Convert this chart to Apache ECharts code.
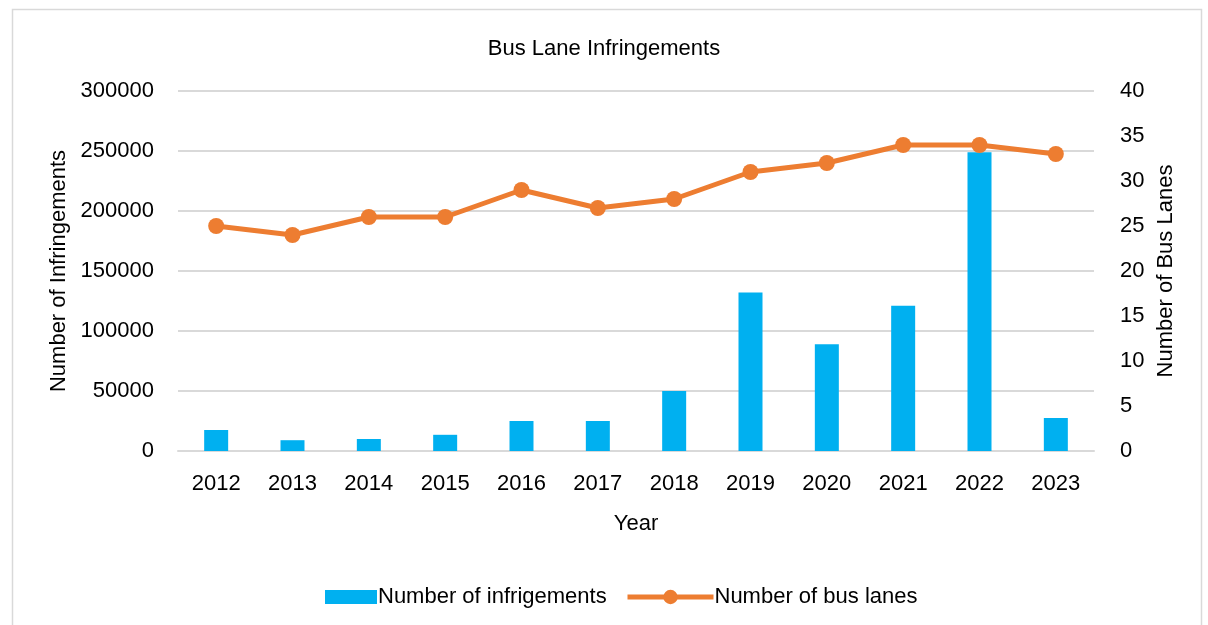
<!DOCTYPE html>
<html>
<head>
<meta charset="utf-8">
<script src="https://cdn.jsdelivr.net/npm/echarts@6/dist/echarts.min.js"></script>
<style>
  html, body { margin: 0; padding: 0; background: #fff; }
  #chart { width: 1208px; height: 625px; }
</style>
</head>
<body>
<div id="chart"></div>
<script>
// data
var years = ['2012', '2013', '2014', '2015', '2016', '2017', '2018', '2019', '2020', '2021', '2022', '2023']
var infringements = [17500, 9000, 10000, 13500, 25000, 25000, 50000, 132000, 89000, 121000, 249000, 27500]
var busLanes = [25, 24, 26, 26, 29, 27, 28, 31, 32, 34, 34, 33]

var FONT = '"Liberation Sans", Arial, sans-serif'
var BLUE = '#00B0F0'
var ORANGE = '#ED7D31'
var GRID = '#D9D9D9'

var myChart = echarts.init(document.getElementById('chart'))

myChart.setOption({
    animation: false,
    textStyle: { fontFamily: FONT, color: '#000' },
    graphic: [{
        type: 'rect',
        left: 10, top: 7,
        shape: { width: 1189, height: 640 },
        style: { fill: 'none', stroke: GRID, lineWidth: 1.5 },
        silent: true
    }],
    title: {
        text: 'Bus Lane Infringements',
        left: 'center',
        top: 33,
        textStyle: { fontFamily: FONT, fontSize: 22, fontWeight: 'normal', color: '#000' }
    },
    legend: [{
        data: [{ name: 'Number of infrigements', icon: 'rect' }],
        left: 320, top: 581,
        itemWidth: 52, itemHeight: 14, itemGap: 5,
        textStyle: { fontFamily: FONT, fontSize: 22, color: '#000', padding: [0, 0, 0, -4] }
    }, {
        data: ['Number of bus lanes'],
        left: 620, top: 581,
        itemWidth: 86, itemHeight: 18,
        lineStyle: { width: 5 },
        textStyle: { fontFamily: FONT, fontSize: 22, color: '#000', padding: [0, 0, 0, -4] }
    }],
    grid: { left: 178, right: 114, top: 91, bottom: 174 },
    xAxis: {
        type: 'category',
        data: years,
        name: 'Year',
        nameLocation: 'middle',
        nameGap: 62,
        nameTextStyle: { fontFamily: FONT, fontSize: 22, color: '#000' },
        axisLine: { lineStyle: { color: GRID, width: 2 } },
        axisTick: { show: false },
        axisLabel: { fontFamily: FONT, fontSize: 22, color: '#000', margin: 22 }
    },
    yAxis: [{
        type: 'value',
        min: 0, max: 300000, interval: 50000,
        name: 'Number of Infringements',
        nameLocation: 'middle',
        nameGap: 87,
        nameTextStyle: { fontFamily: FONT, fontSize: 22, color: '#000' },
        axisLine: { show: false },
        axisTick: { show: false },
        axisLabel: {
            fontFamily: FONT, fontSize: 22, color: '#000', margin: 24,
            formatter: function (v) { return String(v) }
        },
        splitLine: { lineStyle: { color: GRID, width: 2 } }
    }, {
        type: 'value',
        min: 0, max: 40, interval: 5,
        name: 'Number of Bus Lanes',
        nameLocation: 'middle',
        nameGap: 60,
        nameRotate: 90,
        nameTextStyle: { fontFamily: FONT, fontSize: 22, color: '#000' },
        axisLine: { show: false },
        axisTick: { show: false },
        axisLabel: { fontFamily: FONT, fontSize: 22, color: '#000', margin: 26 },
        splitLine: { show: false }
    }],
    series: [{
        name: 'Number of infrigements',
        type: 'bar',
        data: infringements,
        barWidth: 24,
        itemStyle: { color: BLUE }
    }, {
        name: 'Number of bus lanes',
        type: 'line',
        yAxisIndex: 1,
        data: busLanes,
        symbol: 'circle',
        symbolSize: 16,
        lineStyle: { color: ORANGE, width: 5 },
        itemStyle: { color: ORANGE }
    }]
})
</script>
</body>
</html>
